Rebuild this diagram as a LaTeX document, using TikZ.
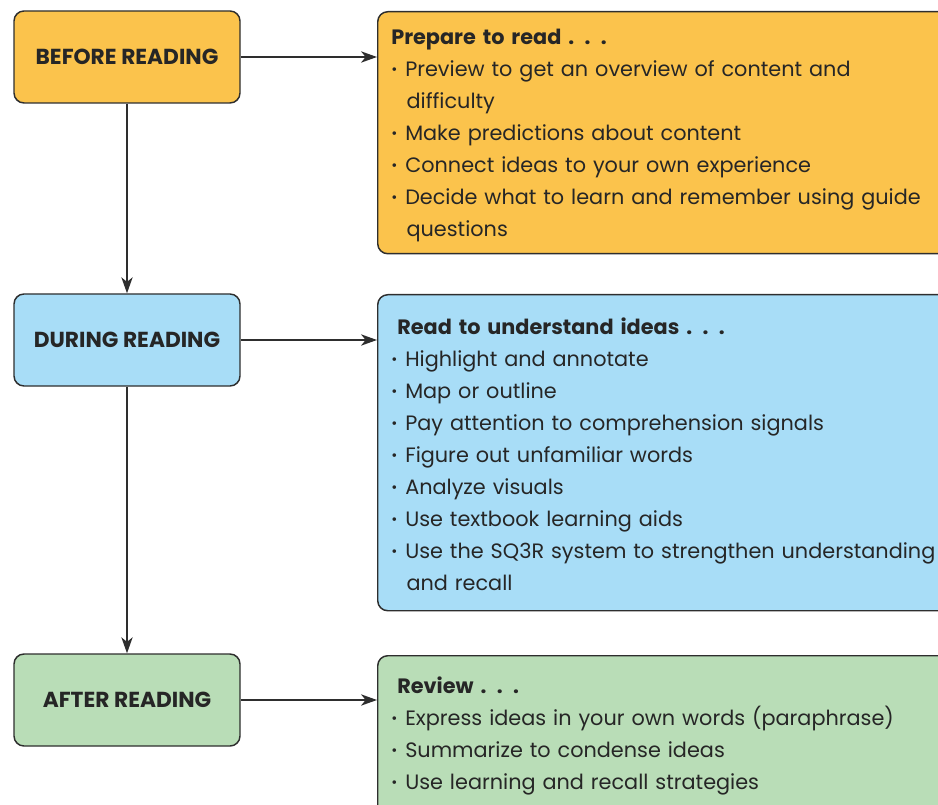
\documentclass[tikz,border=0pt]{standalone}
\usepackage{fontspec}
\setmainfont{Poppins}
\usetikzlibrary{arrows.meta,positioning}

\definecolor{beforefill}{HTML}{FBC34C}
\definecolor{duringfill}{HTML}{A8DDF7}
\definecolor{afterfill}{HTML}{B9DDB7}
\definecolor{boxline}{HTML}{2E2E2E}
\definecolor{inktext}{HTML}{262626}

\newcommand\bul[1]{\par\noindent\makebox[10.5pt][l]{\raisebox{1.5pt}{\fontsize{11}{11}\selectfont\textbullet}}#1}
\newcommand\cont[1]{\par\noindent\hspace*{11.5pt}#1}

\tikzset{
  stage/.style={draw=boxline, line width=1.1pt, rounded corners=7.5pt,
    minimum width=169.5pt, minimum height=69pt, text=inktext,
    font=\bfseries\fontsize{16.3}{19}\selectfont},
  panel/.style={draw=boxline, line width=1.1pt, rounded corners=7.5pt,
    anchor=north west, minimum width=430pt},
  list/.style={anchor=north west, align=left, inner sep=0pt, text width=420pt,
    text=inktext, font=\fontsize{15.6}{24}\selectfont},
  link/.style={-{Stealth[length=12pt,width=8.5pt,inset=3.5pt]}, line width=1.1pt, draw=boxline}
}

\begin{document}
\begin{tikzpicture}[x=0.75pt,y=-0.75pt]
        \useasboundingbox (0,0) rectangle (938,805);
        \clip (0,0) rectangle (938,805);

        % stages
        \node[stage, fill=beforefill] (before) at (127,57) {BEFORE READING};
        \node[stage, fill=duringfill] (during) at (127,340) {DURING READING};
        \node[stage, fill=afterfill] (after) at (127,700) {AFTER READING};

        % panels
        \node[panel, fill=beforefill, minimum height=181.5pt] (prep) at (377,11) {};
        \node[panel, fill=duringfill, minimum height=237pt] (read) at (377,294) {};
        \node[panel, fill=afterfill, minimum height=150pt] (review) at (377,655) {};

        \node[list] (preptext) at (391,28.5) {\textbf{Prepare to read . . .}
          \bul{Preview to get an overview of content and}
          \cont{difficulty}
          \bul{Make predictions about content}
          \bul{Connect ideas to your own experience}
          \bul{Decide what to learn and remember using guide}
          \cont{questions}};
        \node[list] (readtext) at (391,317.5) {\hspace*{4.5pt}\textbf{Read to understand ideas . . .}
          \bul{Highlight and annotate}
          \bul{Map or outline}
          \bul{Pay attention to comprehension signals}
          \bul{Figure out unfamiliar words}
          \bul{Analyze visuals}
          \bul{Use textbook learning aids}
          \bul{Use the SQ3R system to strengthen understanding}
          \cont{and recall}};
        \node[list] (reviewtext) at (391,677) {\hspace*{4.5pt}\textbf{Review . . .}
          \bul{Express ideas in your own words (paraphrase)}
          \bul{Summarize to condense ideas}
          \bul{Use learning and recall strategies}};

        % connectors
        \draw[link] (before) -- (before -| prep.west);
        \draw[link] (during) -- (during -| read.west);
        \draw[link] (after) -- (after -| review.west);
        \draw[link] (before) -- (during);
        \draw[link] (during) -- (after);
\end{tikzpicture}
\end{document}
